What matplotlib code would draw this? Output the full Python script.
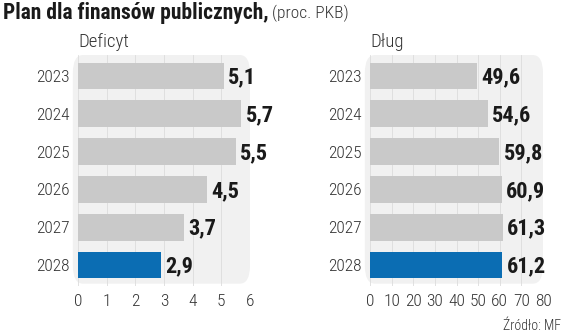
import matplotlib
matplotlib.use("Agg")
import matplotlib.pyplot as plt
from matplotlib.patches import FancyBboxPatch

years = ["2023", "2024", "2025", "2026", "2027", "2028"]
deficit = [5.1, 5.7, 5.5, 4.5, 3.7, 2.9]
debt = [49.6, 54.6, 59.8, 60.9, 61.3, 61.2]
deficit_ticks = [0, 1, 2, 3, 4, 5, 6]
debt_ticks = [0, 10, 20, 30, 40, 50, 60, 70, 80]

plt.rcParams['font.family'] = ['Roboto Condensed', 'DejaVu Sans']

W, H = 564, 334
fig = plt.figure(figsize=(W / 100, H / 100), dpi=100)
fig.patch.set_facecolor('white')

grey = '#c9c9c9'
blue = '#0b6db3'
panel = '#f1f1f1'


def make_panel(x0, x1, values, ticks, title, xmax):
    top, bottom = 55, 286
    ax = fig.add_axes([x0 / W, 1 - bottom / H, (x1 - x0) / W, (bottom - top) / H])
    ax.set_facecolor('none')
    bg = FancyBboxPatch((-0.03, 0.01), 1.03, 0.99, boxstyle="round,pad=0,rounding_size=0.06",
                        transform=ax.transAxes, facecolor=panel, edgecolor='none',
                        zorder=0, clip_on=False, mutation_aspect=1.3)
    ax.add_patch(bg)
    colors = [grey] * (len(values) - 1) + [blue]
    pos = list(range(len(values)))
    ax.barh(pos, values, height=0.7, color=colors, zorder=2)
    for p, v in zip(pos, values):
        ax.annotate(f"{v:.1f}".replace('.', ','), (v, p), xytext=(3, -1),
                    textcoords='offset points', va='center', ha='left',
                    fontsize=16, fontweight='bold', color='#1a1a1a')
    ax.set_ylim(5.55, -0.55)
    ax.set_xlim(0, xmax)
    ax.set_yticks(pos)
    ax.set_yticklabels(years)
    ax.set_xticks(ticks)
    ax.set_xticklabels([str(t) for t in ticks])
    ax.set_axisbelow(True)
    ax.grid(axis='x', color='#dcdcdc', linewidth=0.6, zorder=1)
    ax.tick_params(length=0, labelsize=12.5, colors='#333333')
    for lab in ax.get_xticklabels() + ax.get_yticklabels():
        lab.set_fontweight('light')
    ax.tick_params(axis='y', pad=6)
    ax.tick_params(axis='x', pad=6)
    for s in ax.spines.values():
        s.set_visible(False)
    fig.text(x0 / W, 1 - 42 / H, title, fontsize=13.5, color='#333333',
             fontweight='light', va='center', ha='left')
    return ax


make_panel(78, 250, deficit, deficit_ticks, "Deficyt", 6)
make_panel(370, 543, debt, debt_ticks, "Dług", 80)

t = fig.text(3 / W, 1 - 13 / H, "Plan dla finansów publicznych,", fontsize=15.5,
             fontweight='bold', color='#1a1a1a', va='center', ha='left')
fig.canvas.draw()
bb = t.get_window_extent()
fig.text(bb.x1 / W + 0.006, 1 - 13 / H, "(proc. PKB)", fontsize=12.5,
         color='#333333', fontweight='light', va='center', ha='left')
fig.text(561 / W, 1 - 326 / H, "Źródło: MF", fontsize=10, color='#333333',
         fontweight='light', va='center', ha='right')

fig.savefig("out.png", dpi=100)
